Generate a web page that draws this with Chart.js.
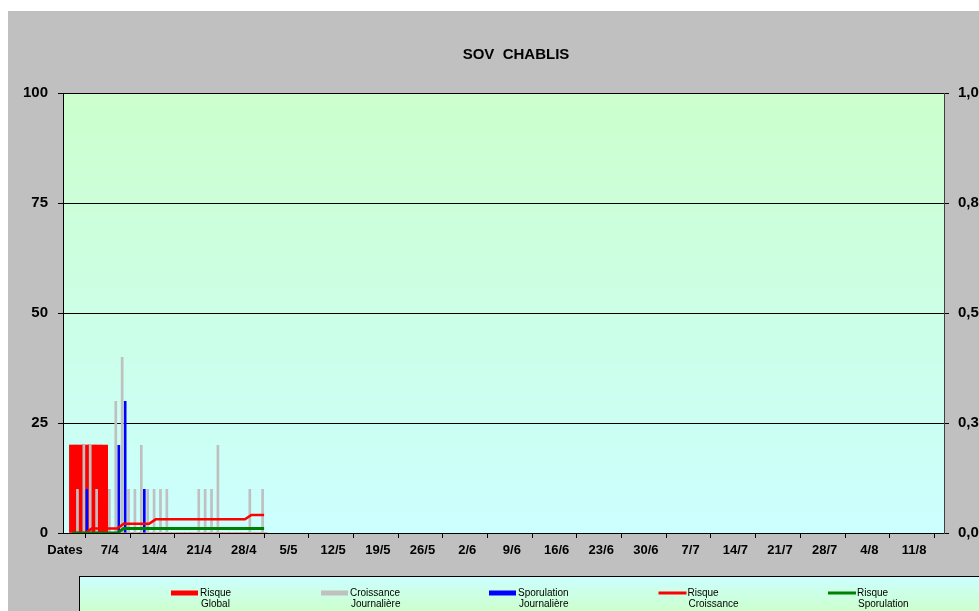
<!DOCTYPE html>
<html><head><meta charset="utf-8">
<script src="https://cdn.jsdelivr.net/npm/chart.js@4.4.1/dist/chart.umd.min.js"></script>
<style>
html,body{margin:0;padding:0;background:#fff;overflow:hidden;width:979px;height:611px;}
#wrap{position:absolute;left:8px;top:11px;width:1016px;height:600px;}
</style></head><body>
<div id="wrap"><canvas id="c" width="1016" height="600"></canvas></div>
<script>
const chartTitle = 'SOV  CHABLIS';
const dayCount = 138; // 31/3 .. 15/8
const xTickLabels = ['Dates','7/4','14/4','21/4','28/4','5/5','12/5','19/5','26/5','2/6','9/6','16/6','23/6','30/6','7/7','14/7','21/7','28/7','4/8','11/8'];
const yLeftTicks = [0, 25, 50, 75, 100];
const yRightLabels = ['0,0','0,3','0,5','0,8','1,0'];

// index 0 = 31/3
const risqueGlobal =      [null,20,20,20,20,20,20,0,0,0,0,0,0,0,0,0,0,0,0,0,0,0,0,0,0,0,0,0,0,0,0,0];
const croissanceJour =    [null,0,10,20,20,10,0,10,30,40,10,10,20,10,10,10,10,0,0,0,0,10,10,10,20,0,0,0,0,10,0,10];
const sporulationJour =   [null,0,0,10,0,0,0,0,20,30,0,0,10,0,0,0,0,0,0,0,0,0,0,0,0,0,0,0,0,0,0,0];
const risqueCroissance =  [null,0,0,0,1,1,1,1,1,2.1,2.1,2.1,2.1,2.1,3.1,3.1,3.1,3.1,3.1,3.1,3.1,3.1,3.1,3.1,3.1,3.1,3.1,3.1,3.1,4.1,4.1,4.1];
const risqueSporulation = [null,0,0,0,0,0,0,0,0,1,1,1,1,1,1,1,1,1,1,1,1,1,1,1,1,1,1,1,1,1,1,1];

const FONT = "'Liberation Sans', Arial, sans-serif";
const toXY = arr => arr.map((v, i) => ({x: i, y: v}));

const bgPlugin = {
  id: 'bg',
  beforeDraw(chart) {
    const {ctx, chartArea: a, width, height} = chart;
    ctx.save();
    ctx.fillStyle = '#c0c0c0';
    ctx.fillRect(0, 0, width, height);
    const g = ctx.createLinearGradient(0, a.top, 0, a.bottom);
    g.addColorStop(0, '#ccffcc');
    g.addColorStop(1, '#ccffff');
    ctx.fillStyle = g;
    ctx.fillRect(a.left, a.top, a.right - a.left, a.bottom - a.top);
    ctx.restore();
  }
};

const legendPlugin = {
  id: 'customLegend',
  afterDraw(chart) {
    const ctx = chart.ctx;
    ctx.save();
    const top = 565.5, bottom = 600;
    const g = ctx.createLinearGradient(0, top, 0, bottom);
    g.addColorStop(0, '#ccffff');
    g.addColorStop(1, '#ccffcc');
    ctx.fillStyle = g;
    ctx.fillRect(71.5, top, 1000, 100);
    ctx.strokeStyle = '#000';
    ctx.lineWidth = 1;
    ctx.strokeRect(71.5, top, 1000, 100);
    const xs = [163, 313, 481, 650.5, 820];
    ctx.font = '10px ' + FONT;
    ctx.textBaseline = 'middle';
    ctx.textAlign = 'left';
    chart.data.datasets.forEach((ds, i) => {
      const x = xs[i];
      if (ds.type === 'line') {
        ctx.strokeStyle = ds.borderColor;
        ctx.lineWidth = 3;
        ctx.beginPath(); ctx.moveTo(x, 582); ctx.lineTo(x + 28, 582); ctx.stroke();
      } else {
        ctx.fillStyle = ds.backgroundColor;
        ctx.fillRect(x, 579.5, 27, 5);
      }
      const parts = ds.label.split(' ');
      ctx.fillStyle = '#000';
      ctx.fillText(parts[0], x + 29, 582);
      ctx.fillText(parts.slice(1).join(' '), x + 30, 593);
    });
    ctx.restore();
  }
};

new Chart(document.getElementById('c'), {
  type: 'bar',
  data: {
    datasets: [
      {type:'bar', label:'Risque Global', data: toXY(risqueGlobal), backgroundColor:'#ff0000',
       grouped:false, barPercentage:1, categoryPercentage:1, order:4, yAxisID:'y'},
      {type:'bar', label:'Croissance Journalière', data: toXY(croissanceJour), backgroundColor:'#c0c0c0',
       barPercentage:0.9, categoryPercentage:0.94, order:2, yAxisID:'y'},
      {type:'bar', label:'Sporulation Journalière', data: toXY(sporulationJour), backgroundColor:'#0000ff',
       barPercentage:0.9, categoryPercentage:0.94, order:3, yAxisID:'y'},
      {type:'line', label:'Risque Croissance', data: toXY(risqueCroissance), borderColor:'#ff0000',
       borderWidth:2.5, pointRadius:0, tension:0, order:1, yAxisID:'y'},
      {type:'line', label:'Risque Sporulation', data: toXY(risqueSporulation), borderColor:'#008000',
       borderWidth:3, pointRadius:0, tension:0, order:0, yAxisID:'y'}
    ]
  },
  options: {
    responsive: false,
    animation: false,
    devicePixelRatio: 1,
    layout: {padding: 0},
    plugins: {
      legend: {display: false},
      tooltip: {enabled: false},
      title: {display: true, text: chartTitle, color:'#000',
        font: {family: FONT, size: 15, weight: 'bold'}, padding: {top: 35, bottom: 29}}
    },
    scales: {
      x: {
        type: 'linear', min: -0.5, max: dayCount - 0.5, offset: false,
        afterBuildTicks: s => { s.ticks = xTickLabels.map((_, j) => ({value: j * 7 - 0.5})); },
        afterFit: s => { s.height = 78; },
        grid: {drawOnChartArea: false, drawTicks: true, tickLength: 5, color: '#000'},
        border: {display: true, color: '#000'},
        ticks: {autoSkip: false, maxRotation: 0, padding: 5, labelOffset: 2, color: '#000',
          font: {family: FONT, size: 13, weight: 'bold'},
          callback: (v, i) => xTickLabels[i]}
      },
      y: {
        position: 'left', min: 0, max: 100,
        afterBuildTicks: s => { s.ticks = yLeftTicks.map(v => ({value: v})); },
        afterFit: s => { s.width = 55; },
        grid: {color: '#000', drawTicks: true, tickLength: 5},
        border: {display: true, color: '#000'},
        ticks: {padding: 10, color: '#000', font: {family: FONT, size: 15, weight: 'bold'}}
      },
      y2: {
        position: 'right', min: 0, max: 1,
        afterBuildTicks: s => { s.ticks = yRightLabels.map((_, j) => ({value: j * 0.25})); },
        afterFit: s => { s.width = 80; },
        grid: {drawOnChartArea: false, drawTicks: true, tickLength: 5, color: '#000'},
        border: {display: true, color: '#404040'},
        ticks: {padding: 9, color: '#000', font: {family: FONT, size: 15, weight: 'bold'},
          callback: (v, i) => yRightLabels[i]}
      }
    }
  },
  plugins: [bgPlugin, legendPlugin]
});
</script>
</body></html>
